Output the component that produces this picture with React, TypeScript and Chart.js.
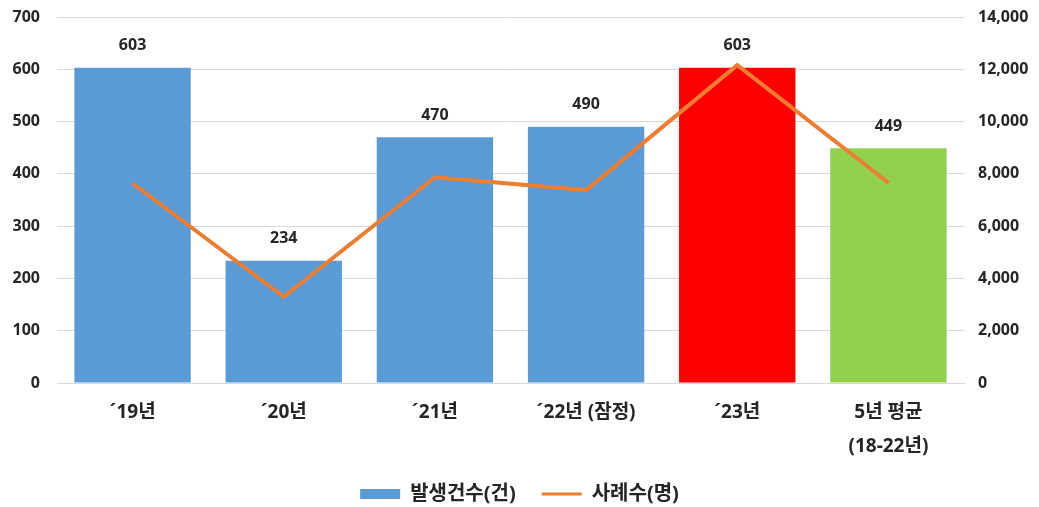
import React, { useEffect, useRef } from "react";
import { Chart, registerables } from "chart.js";

Chart.register(...registerables);

const categories: (string | string[])[] = [
  "´19년",
  "´20년",
  "´21년",
  "´22년 (잠정)",
  "´23년",
  ["5년 평균", "(18-22년)"],
];
const barValues = [603, 234, 470, 490, 603, 449];
const lineValues = [7640, 3300, 7870, 7380, 12160, 7660];
const barColors = ["#5B9BD5", "#5B9BD5", "#5B9BD5", "#5B9BD5", "#FF0000", "#92D050"];
const barLabel = "발생건수(건)";
const lineLabel = "사례수(명)";
const leftTicks = { min: 0, max: 700, step: 100 };
const rightTicks = { min: 0, max: 14000, step: 2000 };

const FONT = '"Noto Sans", "Noto Sans CJK KR", sans-serif';
const TEXT = "#262626";
const LEGEND_PAD = 26;
const LEGEND_FONT = 20;

const barLabelPlugin = {
  id: "barValueLabels",
  afterDatasetsDraw(chart: any) {
    const meta = chart.getDatasetMeta(0);
    const ctx = chart.ctx;
    ctx.save();
    ctx.font = `bold 16px ${FONT}`;
    ctx.fillStyle = TEXT;
    ctx.textAlign = "center";
    ctx.textBaseline = "middle";
    meta.data.forEach((el: any, i: number) => {
      ctx.fillText(String(barValues[i]), el.x, el.y - 22);
    });
    ctx.restore();
  },
};

const legendFixPlugin = {
  id: "legendFix",
  beforeLayout(chart: any) {
    const lg = chart.legend;
    if (lg && !lg._patchedFit) {
      const orig = lg.fit.bind(lg);
      lg.fit = function () {
        orig();
        this.height = 39;
      };
      lg._patchedFit = true;
    }
  },
  afterLayout(chart: any) {
    const lg = chart.legend;
    if (!lg) return;
    const itemCenter = lg.top + LEGEND_PAD + (LEGEND_FONT * 1.2) / 2;
    const shift = 496 - itemCenter;
    lg.top += shift;
    lg.bottom = 507;
    lg.height = lg.bottom - lg.top;
  },
};

export default function App() {
  const ref = useRef<HTMLCanvasElement | null>(null);
  useEffect(() => {
    document.body.style.margin = "0";
    const canvas = ref.current!;
    const chart = new Chart(canvas, {
      type: "bar",
      data: {
        labels: categories,
        datasets: [
          {
            type: "bar",
            label: barLabel,
            data: barValues,
            backgroundColor: barColors,
            borderWidth: 0,
            yAxisID: "y",
            order: 1,
            categoryPercentage: 1,
            barPercentage: 0.77,
          } as any,
          {
            type: "line",
            label: lineLabel,
            data: lineValues,
            borderColor: "#ED7D31",
            backgroundColor: "#ED7D31",
            borderWidth: 4,
            pointRadius: 0,
            tension: 0,
            yAxisID: "y1",
            order: 0,
          } as any,
        ],
      },
      options: {
        animation: false,
        responsive: false,
        maintainAspectRatio: false,
        layout: { padding: { top: 17, left: 0, right: 0, bottom: 0 } },
        plugins: {
          tooltip: { enabled: false },
          legend: {
            position: "bottom",
            labels: {
              usePointStyle: true,
              pointStyleWidth: 40,
              boxHeight: 10,
              padding: LEGEND_PAD,
              color: TEXT,
              font: { family: FONT, size: LEGEND_FONT, weight: "bold" },
              sort: (a: any, b: any) => a.datasetIndex - b.datasetIndex,
              generateLabels: () => [
                {
                  text: barLabel,
                  fillStyle: "#5B9BD5",
                  strokeStyle: "#5B9BD5",
                  lineWidth: 0,
                  pointStyle: "rect",
                  datasetIndex: 0,
                  hidden: false,
                  fontColor: TEXT,
                },
                {
                  text: lineLabel,
                  fillStyle: "#ED7D31",
                  strokeStyle: "#ED7D31",
                  lineWidth: 3,
                  pointStyle: "line",
                  datasetIndex: 1,
                  hidden: false,
                  fontColor: TEXT,
                },
              ],
            },
          },
        },
        scales: {
          x: {
            offset: true,
            grid: { display: false, drawTicks: false },
            border: { display: true, color: "#D9D9D9", width: 1 },
            ticks: {
              color: TEXT,
              padding: 12,
              maxRotation: 0,
              autoSkip: false,
              font: { family: FONT, size: 19, weight: "bold", lineHeight: 1.8 },
            },
            afterFit: (scale: any) => {
              scale.height = 85;
            },
          },
          y: {
            position: "left",
            min: leftTicks.min,
            max: leftTicks.max,
            grid: {
              color: "#D9D9D9",
              lineWidth: 1,
              drawTicks: true,
              tickLength: 17,
              tickColor: "rgba(0,0,0,0)",
            },
            border: { display: false },
            ticks: {
              stepSize: leftTicks.step,
              padding: 0,
              color: TEXT,
              font: { family: FONT, size: 16, weight: "bold" },
            },
            afterFit: (scale: any) => {
              scale.width = 57;
            },
          },
          y1: {
            position: "right",
            min: rightTicks.min,
            max: rightTicks.max,
            grid: {
              drawOnChartArea: false,
              drawTicks: true,
              tickLength: 14,
              tickColor: "rgba(0,0,0,0)",
            },
            border: { display: false },
            ticks: {
              stepSize: rightTicks.step,
              padding: 0,
              color: TEXT,
              font: { family: FONT, size: 16, weight: "bold" },
              callback: (v: any) => Number(v).toLocaleString("en-US"),
            },
            afterFit: (scale: any) => {
              scale.width = 75;
            },
          },
        },
      },
      plugins: [barLabelPlugin, legendFixPlugin],
    });
    return () => chart.destroy();
  }, []);
  return (
    <div style={{ width: 1039, height: 507 }}>
      <canvas ref={ref} width={1039} height={507} style={{ display: "block" }} />
    </div>
  );
}
